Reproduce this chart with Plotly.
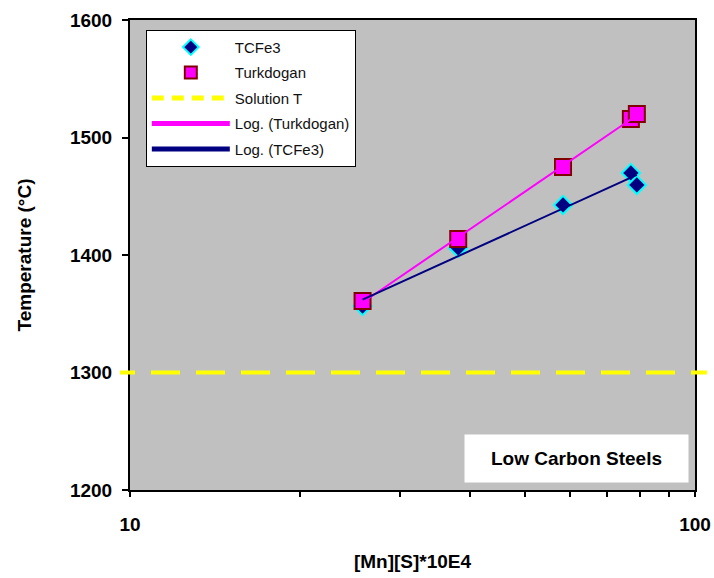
import numpy as np
import plotly.graph_objects as go

# ---- data ----
mns_x = [25.8, 38.1, 58.4, 77.0, 78.9]          # [Mn][S]*10E4
tcfe3_T = [1356.6, 1406.0, 1442.6, 1469.8, 1459.6]
turk_T = [1360.9, 1413.6, 1474.9, 1515.7, 1520.0]
solution_T = 1300
x_tickvals = [10, 20, 30, 40, 50, 60, 70, 80, 90, 100]
x_ticktext = ["10", "", "", "", "", "", "", "", "", "100"]
y_tickvals = [1200, 1300, 1400, 1500, 1600]

# logarithmic trendlines (y = a ln x + b), fitted to the data
def log_fit(xs, ys):
    a, b = np.polyfit(np.log(xs), ys, 1)
    xx = np.geomspace(min(xs), max(xs), 60)
    return xx, a * np.log(xx) + b

tx, ty = log_fit(mns_x, turk_T)
cx, cy = log_fit(mns_x, tcfe3_T)

FONT = "Liberation Sans, Arial, sans-serif"

fig = go.Figure()
fig.add_trace(go.Scatter(
    x=mns_x, y=tcfe3_T, mode="markers", name="TCFe3", legendgroup="a",
    marker=dict(symbol="diamond", size=14, color="#000080",
                line=dict(color="#00FFFF", width=2))))
fig.add_trace(go.Scatter(
    x=mns_x, y=turk_T, mode="markers", name="Turkdogan", legendgroup="b",
    marker=dict(symbol="square", size=16, color="#FF00FF",
                line=dict(color="#800000", width=2))))
fig.add_trace(go.Scatter(
    x=[None], y=[None], mode="lines", name="Solution T", legendgroup="c",
    line=dict(color="#FFFF00", width=4, dash="12px,8px")))
fig.add_trace(go.Scatter(
    x=tx, y=ty, mode="lines", name="Log. (Turkdogan)", legendgroup="d",
    line=dict(color="#FF00FF", width=2)))
fig.add_trace(go.Scatter(
    x=cx, y=cy, mode="lines", name="Log. (TCFe3)", legendgroup="e",
    line=dict(color="#000080", width=2)))

# Solution T line (extends slightly beyond the plot area as in the original)
dash_pattern = ",".join(["15px", "16px"] + ["29px", "16px"] * 14)
fig.add_shape(type="line", xref="paper", yref="y",
              x0=-0.0177, x1=1.0212, y0=solution_T, y1=solution_T,
              line=dict(color="#FFFF00", width=4, dash=dash_pattern),
              layer="above")

fig.add_annotation(
    x=0.790, y=0.067, xref="paper", yref="paper", xanchor="center", yanchor="middle",
    text="<b>Low Carbon Steels</b>", showarrow=False,
    font=dict(family=FONT, size=19, color="black"),
    bgcolor="white", width=221, height=45)

fig.update_layout(
    width=714, height=578,
    margin=dict(l=130, r=19, t=20, b=88, autoexpand=False),
    paper_bgcolor="white", plot_bgcolor="#C0C0C0",
    font=dict(family=FONT, color="black"),
    showlegend=True,
    legend=dict(x=0.028, y=0.979, xanchor="left", yanchor="top",
                bgcolor="white", bordercolor="black", borderwidth=1,
                font=dict(family=FONT, size=15, color="#111111"),
                traceorder="grouped", tracegroupgap=3,
                itemsizing="constant", itemwidth=78,
                entrywidth=135, entrywidthmode="pixels"),
    xaxis=dict(type="log", range=[1, 2], tickvals=x_tickvals, ticktext=x_ticktext,
               automargin=False,
               ticks="outside", ticklen=5, tickwidth=1.5, tickcolor="black",
               showline=True, linecolor="black", linewidth=2, mirror=True,
               showgrid=False, zeroline=False,
               tickfont=dict(family=FONT, size=19, color="black", weight="bold"),
               ticklabelstandoff=11,
               title=dict(text="<b>[Mn][S]*10E4</b>", standoff=21,
                          font=dict(family=FONT, size=19, color="black"))),
    yaxis=dict(range=[1200, 1600], tickvals=y_tickvals,
               automargin=False,
               ticks="outside", ticklen=6, tickwidth=1.5, tickcolor="black",
               showline=True, linecolor="black", linewidth=2, mirror=True,
               showgrid=False, zeroline=False,
               tickfont=dict(family=FONT, size=19, color="black", weight="bold"),
               ticklabelstandoff=6,
               title=dict(text="<b>Temperature (°C)</b>", standoff=33,
                          font=dict(family=FONT, size=19, color="black"))),
)

fig.write_html("out.html")
